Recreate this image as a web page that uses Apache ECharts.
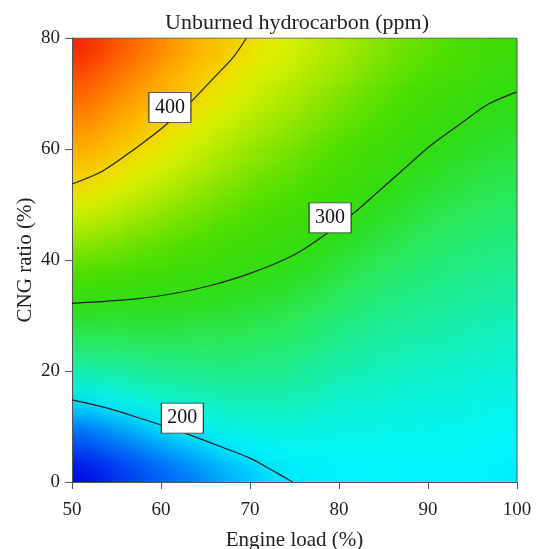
<!DOCTYPE html>
<html>
<head>
<meta charset="utf-8">
<script src="https://cdn.jsdelivr.net/npm/echarts@6/dist/echarts.min.js"></script>
<style>
  html, body { margin: 0; padding: 0; background: #fff; }
  #wrap { position: relative; width: 539px; height: 549px; }
  .layer { position: absolute; left: 0; top: 0; width: 539px; height: 549px; }
  /* blurred surface, clipped to the plot area; it runs 4 cells past each edge */
  #clip { position: absolute; left: 72px; top: 38px; width: 445px; height: 444px; overflow: hidden; }
  #soft { position: absolute; left: -89px; top: -89px; width: 623px; height: 623px; filter: blur(11px); }
</style>
</head>
<body>
<div id="wrap">
  <div id="clip"><div id="soft"></div></div>
  <div id="main" class="layer"></div>
</div>
<script>
// cell centres of the surface grid (engine load %, CNG ratio %)
var loadCenters = [51.25, 53.75, 56.25, 58.75, 61.25, 63.75, 66.25, 68.75, 71.25, 73.75,
  76.25, 78.75, 81.25, 83.75, 86.25, 88.75, 91.25, 93.75, 96.25, 98.75];
var ratioCenters = [2, 6, 10, 14, 18, 22, 26, 30, 34, 38, 42, 46, 50, 54, 58, 62, 66, 70, 74, 78];

// unburned HC (ppm), one row per CNG ratio
var hcRows = [
  [121,133,145,156,166,175,183,190,197,201,203,204,205,206,206,206,206,206,205,203],
  [147,157,166,176,184,191,198,203,206,209,209,209,208,209,208,208,208,208,207,205],
  [172,180,188,196,202,207,212,215,216,218,216,215,213,213,212,212,211,211,210,208],
  [198,203,209,214,218,222,225,228,227,228,225,222,219,219,217,216,215,215,213,212],
  [221,224,228,232,235,237,239,241,239,239,234,230,226,225,223,221,220,219,217,216],
  [243,245,247,250,251,252,253,253,250,249,243,239,234,232,229,227,225,224,222,220],
  [265,266,267,267,268,267,267,266,262,260,254,248,242,239,236,233,231,229,227,225],
  [287,286,286,285,284,282,280,278,274,271,264,258,252,247,243,240,237,235,232,230],
  [308,306,304,302,300,297,294,291,286,283,276,269,261,256,251,247,244,241,238,236],
  [326,323,319,316,313,310,306,303,299,294,287,280,272,265,260,255,251,248,245,242],
  [344,339,335,330,326,321,317,312,308,304,299,291,283,275,269,263,258,255,251,249],
  [362,356,350,344,338,333,327,322,317,313,307,302,294,285,278,271,266,262,258,255],
  [380,373,365,358,351,344,338,332,326,321,316,310,304,296,288,280,274,270,265,262],
  [398,390,381,372,364,356,348,342,335,330,324,318,311,305,298,289,283,278,273,269],
  [411,405,396,386,377,368,359,351,344,338,332,325,319,312,306,299,292,286,281,277],
  [424,416,408,400,389,379,369,361,353,347,340,333,326,319,313,306,301,294,289,285],
  [437,428,418,410,402,391,380,371,362,355,348,341,334,327,320,313,308,302,297,293],
  [449,439,429,419,410,402,391,381,371,364,356,349,341,334,327,320,315,309,304,301],
  [462,451,440,429,419,409,401,391,380,372,364,356,349,341,334,327,322,316,310,306],
  [475,462,451,439,428,417,408,400,389,381,372,364,356,348,341,335,329,323,317,312]
];

// contour lines [load, ratio]
var contour200 = [[50,14.8],[54,13.3],[58,11.3],[62,9.2],[66,6.8],[70,4.3],[72.5,2.1],[74.8,0]];
var contour300 = [[50,32.2],[57.2,33.0],[61.9,34.1],[65.8,35.5],[69.7,37.4],[74.3,40.4],[77.4,43.4],
  [81.7,48.5],[84.4,52.3],[87.5,56.7],[90.2,60.5],[93.7,64.6],[96.8,68.1],[100,70.3]];
var contour400 = [[50,53.7],[53.4,56.0],[57.2,60.2],[60.3,64.0],[63.3,68.4],[65.8,72.6],[68.1,76.5],[69.6,80]];
var contourLabels = [[61.0,67.5,'400'],[79.0,47.6,'300'],[62.4,11.5,'200']];

// colour ramp, 115 ppm (blue) .. 505 ppm (red), evenly spaced stops
var hcColors = ['#0000e0', '#003cf0', '#0082f8', '#00f6ff', '#19eea5', '#2ae85a', '#2ddc14',
  '#4bde00', '#a0e800', '#e6f200', '#ffb400', '#ff6e00', '#f52800', '#e81000'];

var serif = "'Liberation Serif', 'DejaVu Serif', serif";

// surface layer: the read grid, edge cells repeated 4 times outward so the
// blur does not fade at the clipped plot border
var pad = 4;
var nx = loadCenters.length, ny = ratioCenters.length;
function clampIdx(i, n) { return Math.max(0, Math.min(n - 1, i)); }
var heatData = [];
for (var j = -pad; j < ny + pad; j++) {
  for (var i = -pad; i < nx + pad; i++) {
    heatData.push([i + pad, j + pad, hcRows[clampIdx(j, ny)][clampIdx(i, nx)]]);
  }
}
var padCats = function (n) {
  var a = [];
  for (var k = 0; k < n + 2 * pad; k++) a.push(String(k));
  return a;
};

var soft = echarts.init(document.getElementById('soft'));
soft.setOption({
  animation: false,
  grid: { left: 0, right: 0, top: 0.2, bottom: 0.2, outerBoundsMode: 'none' },
  visualMap: { show: false, min: 115, max: 505, inRange: { color: hcColors } },
  xAxis: { type: 'category', data: padCats(nx), show: false },
  yAxis: { type: 'category', data: padCats(ny), show: false },
  series: [{
    type: 'heatmap',
    data: heatData,
    itemStyle: { borderWidth: 0 },
    emphasis: { disabled: true }
  }]
});

function contourSeries(pts) {
  return {
    type: 'line',
    data: pts,
    smooth: 0.3,
    symbol: 'none',
    silent: true,
    lineStyle: { color: '#222', width: 1.2 },
    z: 5
  };
}

var myChart = echarts.init(document.getElementById('main'));
myChart.setOption({
  animation: false,
  title: {
    text: 'Unburned hydrocarbon (ppm)',
    left: 292,
    textAlign: 'center',
    top: 7,
    textStyle: { fontFamily: serif, fontSize: 22, fontWeight: 'normal', color: '#222' }
  },
  grid: { left: 72, right: 22, top: 38, bottom: 67, outerBoundsMode: 'none' },
  xAxis: {
    type: 'value', position: 'bottom', min: 50, max: 100, interval: 10,
    name: 'Engine load (%)', nameLocation: 'middle', nameGap: 48, nameMoveOverlap: false,
    nameTextStyle: { fontFamily: serif, fontSize: 21, color: '#222' },
    axisLine: { show: true, onZero: false, lineStyle: { color: '#555', width: 1 } },
    axisTick: { show: true, length: 7, lineStyle: { color: '#555' } },
    axisLabel: { margin: 19, fontFamily: serif, fontSize: 19, color: '#222' },
    splitLine: { show: false }
  },
  yAxis: {
    type: 'value', position: 'left', min: 0, max: 80, interval: 20,
    name: 'CNG ratio (%)', nameLocation: 'middle', nameGap: 36, nameMoveOverlap: false,
    nameTextStyle: { fontFamily: serif, fontSize: 21, color: '#222' },
    axisLine: { show: true, onZero: false, lineStyle: { color: '#555', width: 1 } },
    axisTick: { show: true, length: 7, lineStyle: { color: '#555' } },
    axisLabel: { margin: 12, fontFamily: serif, fontSize: 19, color: '#222' },
    splitLine: { show: false }
  },
  series: [
    contourSeries(contour200),
    contourSeries(contour300),
    contourSeries(contour400),
    {
      type: 'scatter',
      data: contourLabels,
      symbol: 'rect',
      symbolSize: [42, 30],
      silent: true,
      z: 10,
      itemStyle: { color: '#fff', borderColor: '#333', borderWidth: 1, opacity: 1 },
      label: {
        show: true,
        position: 'inside',
        formatter: function (p) { return p.value[2]; },
        fontFamily: serif,
        fontSize: 20,
        color: '#111'
      }
    },
    {
      // frame on top/right
      type: 'line', symbol: 'none', silent: true,
      data: [[50, 80], [100, 80], [100, 0]],
      lineStyle: { color: '#555', width: 1 }, z: 6
    }
  ]
});
</script>
</body>
</html>
